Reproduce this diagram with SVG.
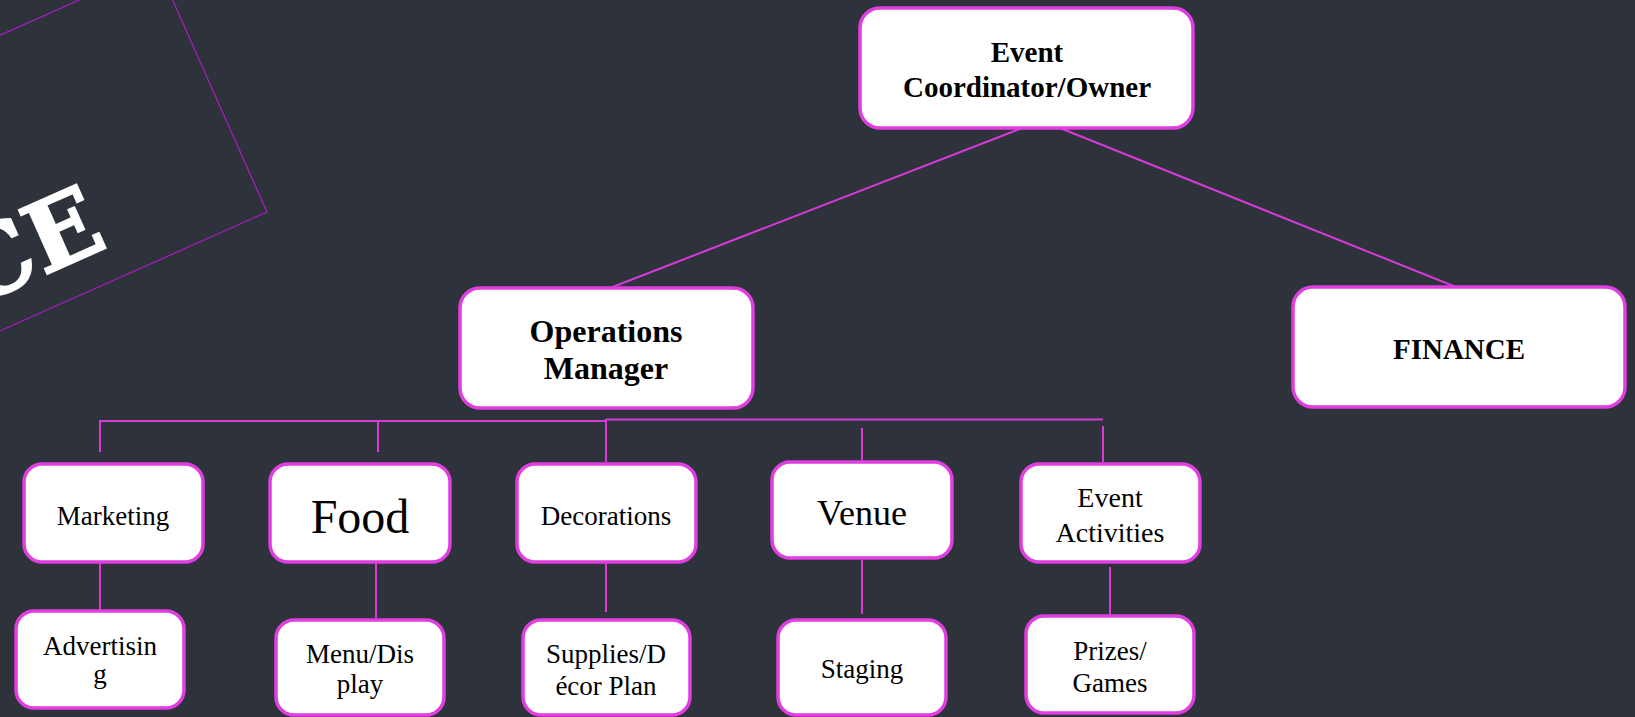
<svg xmlns="http://www.w3.org/2000/svg" width="1635" height="717" viewBox="0 0 1635 717">
<style>
.bg{fill:#2d323b}
.box{fill:#ffffff;stroke:#e03ee0;stroke-width:3.5}
.t{font-family:"Liberation Serif","Times New Roman",serif;fill:#000000;text-anchor:middle}
.b{font-weight:bold}
.ln{stroke:#d83ad8;stroke-width:2;fill:none}
</style>
<rect class="bg" x="0" y="0" width="1635" height="717"/>
<g id="banner">
<rect x="-800" y="-270" width="800" height="270" transform="translate(267,212) rotate(-24)" fill="none" stroke="#a11fba" stroke-width="1.3"/>
<text x="0" y="0" transform="translate(110,246) rotate(-24)" font-family="'DejaVu Serif',serif" font-weight="bold" font-size="96" fill="#ffffff" stroke="#ffffff" stroke-width="2" text-anchor="end">CE</text>
</g>
<g id="connectors">
<line class="ln" x1="1022" y1="128" x2="610" y2="288"/>
<line class="ln" x1="1060" y1="128" x2="1456" y2="287"/>
<line class="ln" x1="100" y1="421" x2="606" y2="421"/>
<line class="ln" x1="606" y1="419.5" x2="1103" y2="419.5"/>
<line class="ln" x1="100" y1="420" x2="100" y2="452"/>
<line class="ln" x1="378" y1="421" x2="378" y2="452"/>
<line class="ln" x1="606" y1="419" x2="606" y2="462"/>
<line class="ln" x1="862" y1="428" x2="862" y2="460"/>
<line class="ln" x1="1103" y1="426" x2="1103" y2="462"/>
<line class="ln" x1="100" y1="560" x2="100" y2="611"/>
<line class="ln" x1="376" y1="562" x2="376" y2="618"/>
<line class="ln" x1="606" y1="559" x2="606" y2="612"/>
<line class="ln" x1="862" y1="560" x2="862" y2="614"/>
<line class="ln" x1="1110" y1="567" x2="1110" y2="619"/>
</g>
<g id="node-coordinator">
<rect class="box" x="860" y="8" width="333" height="120" rx="20"/>
<text class="t b" x="1027" y="62" font-size="29">Event</text>
<text class="t b" x="1027" y="97" font-size="29">Coordinator/Owner</text>
</g>
<g id="node-operations">
<rect class="box" x="460" y="288" width="293" height="120" rx="20"/>
<text class="t b" x="606" y="342" font-size="32">Operations</text>
<text class="t b" x="606" y="379" font-size="32">Manager</text>
</g>
<g id="node-finance">
<rect class="box" x="1293" y="287" width="332" height="120" rx="20"/>
<text class="t b" x="1459" y="359" font-size="29">FINANCE</text>
</g>
<g id="node-marketing">
<rect class="box" x="24" y="464" width="179" height="98" rx="18"/>
<text class="t" x="113" y="525" font-size="27">Marketing</text>
</g>
<g id="node-food">
<rect class="box" x="270" y="464" width="180" height="98" rx="18"/>
<text class="t" x="360" y="533" font-size="48">Food</text>
</g>
<g id="node-decorations">
<rect class="box" x="517" y="464" width="179" height="98" rx="18"/>
<text class="t" x="606" y="525" font-size="27">Decorations</text>
</g>
<g id="node-venue">
<rect class="box" x="772" y="462" width="180" height="96" rx="18"/>
<text class="t" x="862" y="525" font-size="36">Venue</text>
</g>
<g id="node-activities">
<rect class="box" x="1021" y="464" width="179" height="98" rx="18"/>
<text class="t" x="1110" y="507" font-size="28">Event</text>
<text class="t" x="1110" y="542" font-size="28">Activities</text>
</g>
<g id="node-advertising">
<rect class="box" x="16" y="611" width="168" height="97" rx="18"/>
<text class="t" x="100" y="655" font-size="27">Advertisin</text>
<text class="t" x="100" y="683" font-size="27">g</text>
</g>
<g id="node-menu">
<rect class="box" x="276" y="620" width="168" height="95" rx="18"/>
<text class="t" x="360" y="663" font-size="27">Menu/Dis</text>
<text class="t" x="360" y="693" font-size="27">play</text>
</g>
<g id="node-supplies">
<rect class="box" x="523" y="620" width="167" height="95" rx="18"/>
<text class="t" x="606" y="663" font-size="27">Supplies/D</text>
<text class="t" x="606" y="695" font-size="27">écor Plan</text>
</g>
<g id="node-staging">
<rect class="box" x="778" y="620" width="168" height="95" rx="18"/>
<text class="t" x="862" y="678" font-size="27">Staging</text>
</g>
<g id="node-prizes">
<rect class="box" x="1026" y="616" width="168" height="97" rx="18"/>
<text class="t" x="1110" y="660" font-size="27">Prizes/</text>
<text class="t" x="1110" y="692" font-size="27">Games</text>
</g>
</svg>
